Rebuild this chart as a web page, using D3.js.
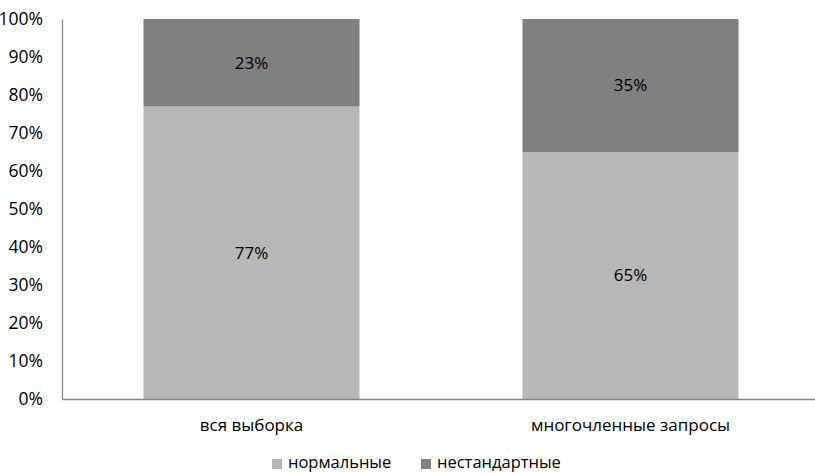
<!DOCTYPE html>
<html>
<head>
<meta charset="utf-8">
<script src="https://cdn.jsdelivr.net/npm/d3@7"></script>
<style>
  body { margin: 0; background: #fff; overflow: hidden; }
  svg text { font-family: "Open Sans", sans-serif; fill: #000; }
</style>
</head>
<body>
<svg id="chart"></svg>
<script>
const categories = ["вся выборка", "многочленные запросы"];
const normal = [77, 65];
const nonstandard = [23, 35];
const seriesNames = ["нормальные", "нестандартные"];
const yTicks = [0, 10, 20, 30, 40, 50, 60, 70, 80, 90, 100];

const width = 815, height = 473;
const margin = { top: 19, right: -5, bottom: 74, left: 62 };
const colors = ["#b7b7b7", "#808080"];

const svg = d3.select("#chart").attr("width", width).attr("height", height);
const innerW = width - margin.left - margin.right;
const innerH = height - margin.top - margin.bottom;
const chart = svg.append("g").attr("transform", `translate(${margin.left},${margin.top})`);

const rows = categories.map((c, i) => ({ cat: c, "нормальные": normal[i], "нестандартные": nonstandard[i] }));
const stacked = d3.stack().keys(seriesNames)(rows);

const x = d3.scaleBand().domain(categories).range([0, innerW]).paddingInner(0.43).paddingOuter(0.215);
const y = d3.scaleLinear().domain([0, 100]).range([innerH, 0]);

// y axis labels, no tick marks
const yAxis = chart.append("g")
  .call(d3.axisLeft(y).tickValues(yTicks).tickFormat(d => d + "%").tickSize(0).tickPadding(19));
yAxis.select(".domain").attr("stroke", "#868686").attr("stroke-width", 1.3);
yAxis.selectAll("text").style("font-size", "17.5px");

// bars
const layers = chart.selectAll(".layer").data(stacked).join("g")
  .attr("fill", (d, i) => colors[i]);
layers.selectAll("rect").data(d => d).join("rect")
  .attr("x", d => x(d.data.cat))
  .attr("y", d => y(d[1]))
  .attr("width", x.bandwidth())
  .attr("height", d => y(d[0]) - y(d[1]));

// value labels
layers.selectAll("text").data(d => d).join("text")
  .attr("x", d => x(d.data.cat) + x.bandwidth() / 2)
  .attr("y", d => (y(d[0]) + y(d[1])) / 2)
  .attr("dy", "0.35em")
  .attr("text-anchor", "middle")
  .style("font-size", "17px")
  .text(d => (d[1] - d[0]) + "%");

// x axis
const xAxis = chart.append("g").attr("transform", `translate(0,${innerH})`)
  .call(d3.axisBottom(x).tickSize(0).tickPadding(20));
xAxis.select(".domain").attr("stroke", "#868686").attr("stroke-width", 1.3);
xAxis.selectAll("text").style("font-size", "17px");

// legend
const legendX = [272, 421];
const legend = svg.append("g").selectAll("g").data(seriesNames).join("g")
  .attr("transform", (d, i) => `translate(${legendX[i]},459)`);
legend.append("rect").attr("width", 10).attr("height", 10).attr("fill", (d, i) => colors[i]);
legend.append("text").attr("x", 16).attr("y", 9)
  .style("font-size", "16.5px").text(d => d);
</script>
</body>
</html>
